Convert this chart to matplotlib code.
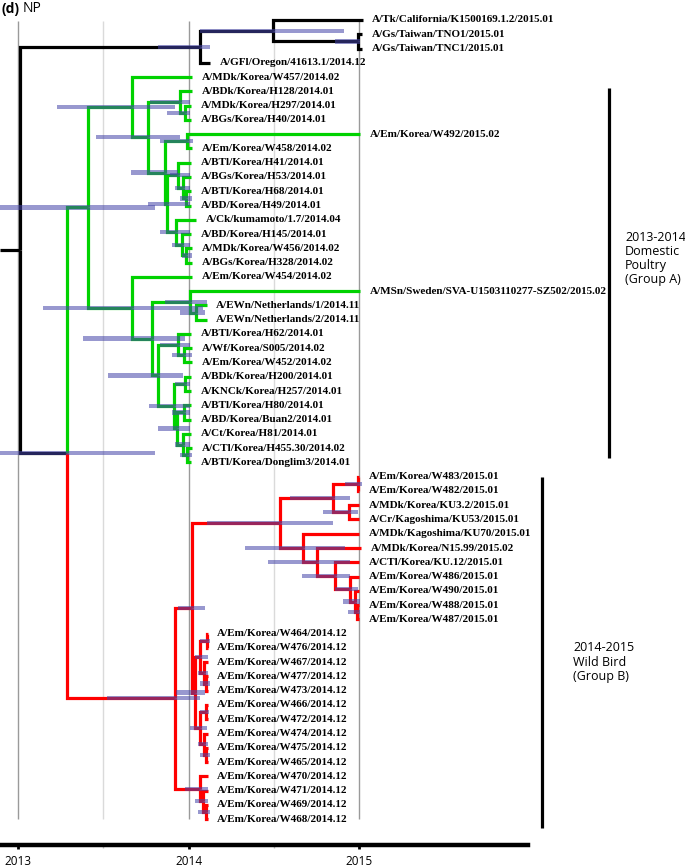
"""
Time-scaled NP tree (panel d) redrawn with matplotlib.
"""
import matplotlib
matplotlib.use("Agg")
import matplotlib.pyplot as plt

# ── Data ──────────────────────────────────────────────────────────────────────

tip_names = [
    "A/Tk/California/K1500169.1.2/2015.01",
    "A/Gs/Taiwan/TNO1/2015.01",
    "A/Gs/Taiwan/TNC1/2015.01",
    "A/GFl/Oregon/41613.1/2014.12",
    "A/MDk/Korea/W457/2014.02",
    "A/BDk/Korea/H128/2014.01",
    "A/MDk/Korea/H297/2014.01",
    "A/BGs/Korea/H40/2014.01",
    "A/Em/Korea/W492/2015.02",
    "A/Em/Korea/W458/2014.02",
    "A/BTl/Korea/H41/2014.01",
    "A/BGs/Korea/H53/2014.01",
    "A/BTl/Korea/H68/2014.01",
    "A/BD/Korea/H49/2014.01",
    "A/Ck/kumamoto/1.7/2014.04",
    "A/BD/Korea/H145/2014.01",
    "A/MDk/Korea/W456/2014.02",
    "A/BGs/Korea/H328/2014.02",
    "A/Em/Korea/W454/2014.02",
    "A/MSn/Sweden/SVA-U1503110277-SZ502/2015.02",
    "A/EWn/Netherlands/1/2014.11",
    "A/EWn/Netherlands/2/2014.11",
    "A/BTl/Korea/H62/2014.01",
    "A/Wf/Korea/S005/2014.02",
    "A/Em/Korea/W452/2014.02",
    "A/BDk/Korea/H200/2014.01",
    "A/KNCk/Korea/H257/2014.01",
    "A/BTl/Korea/H80/2014.01",
    "A/BD/Korea/Buan2/2014.01",
    "A/Ct/Korea/H81/2014.01",
    "A/CTl/Korea/H455.30/2014.02",
    "A/BTl/Korea/Donglim3/2014.01",
    "A/Em/Korea/W483/2015.01",
    "A/Em/Korea/W482/2015.01",
    "A/MDk/Korea/KU3.2/2015.01",
    "A/Cr/Kagoshima/KU53/2015.01",
    "A/MDk/Kagoshima/KU70/2015.01",
    "A/MDk/Korea/N15.99/2015.02",
    "A/CTl/Korea/KU.12/2015.01",
    "A/Em/Korea/W486/2015.01",
    "A/Em/Korea/W490/2015.01",
    "A/Em/Korea/W488/2015.01",
    "A/Em/Korea/W487/2015.01",
    "A/Em/Korea/W464/2014.12",
    "A/Em/Korea/W476/2014.12",
    "A/Em/Korea/W467/2014.12",
    "A/Em/Korea/W477/2014.12",
    "A/Em/Korea/W473/2014.12",
    "A/Em/Korea/W466/2014.12",
    "A/Em/Korea/W472/2014.12",
    "A/Em/Korea/W474/2014.12",
    "A/Em/Korea/W475/2014.12",
    "A/Em/Korea/W465/2014.12",
    "A/Em/Korea/W470/2014.12",
    "A/Em/Korea/W471/2014.12",
    "A/Em/Korea/W469/2014.12",
    "A/Em/Korea/W468/2014.12",
]

# tip heights on the time axis (decimal years, as drawn)
tip_dates = [
    2015.023, 2015.018, 2015.018, 2014.126,
    2014.021, 2014.021, 2014.015, 2014.015, 2015.006, 2014.021,
    2014.015, 2014.015, 2014.015, 2014.015, 2014.044, 2014.015,
    2014.021, 2014.021, 2014.021, 2015.006, 2014.108, 2014.108,
    2014.015, 2014.021, 2014.021, 2014.015, 2014.015, 2014.015,
    2014.015, 2014.015, 2014.021, 2014.015,
    2015.000, 2015.000, 2015.000, 2015.000, 2015.000, 2015.012,
    2015.000, 2015.000, 2015.000, 2015.000, 2015.000,
    2014.114, 2014.114, 2014.114, 2014.114, 2014.114, 2014.114,
    2014.114, 2014.114, 2014.114, 2014.114, 2014.114, 2014.114,
    2014.114, 2014.114,
]

# internal nodes: name, date, children (int = tip index), 95% HPD of node date
node_names = [
    "root", "T", "U", "TW", "S",
    "A", "D", "F", "H1", "H2", "K", "E", "L", "L1", "L1a", "L1b", "L2", "L2a", "L2b",
    "G2", "M", "SN", "NN", "N", "P", "P1", "Q", "Q1", "Q2", "Q2a", "Q2b", "Q2c",
    "R", "R1", "W5", "W33", "W36a", "W36b", "W30", "W31", "W33b", "WW", "WW2", "WW3",
    "WB", "Nab", "Na", "Nb", "Nb2", "Ncd", "Nc", "Nd", "Nd2", "RL", "RL2", "RL3",
]
node_dates = [
    2013.012, 2014.067, 2014.496, 2014.994, 2013.287,
    2013.411, 2013.669, 2013.762, 2013.950, 2013.979, 2013.862, 2013.991, 2013.874,
    2013.938, 2013.968, 2013.985, 2013.927, 2013.962, 2013.985,
    2013.669, 2013.786, 2014.009, 2014.044, 2013.821, 2013.938, 2013.974, 2013.915,
    2013.979, 2013.933, 2013.974, 2013.968, 2013.991,
    2013.921, 2014.021, 2014.537, 2014.848, 2014.994, 2014.941, 2014.672, 2014.754,
    2014.859, 2014.947, 2014.977, 2014.988,
    2014.038, 2014.067, 2014.108, 2014.091, 2014.103, 2014.067, 2014.103, 2014.091,
    2014.103, 2014.067, 2014.085, 2014.103,
]
node_children = [
    ["T", "S"], ["U", 3], [0, "TW"], [1, 2], ["A", "R"],
    ["D", "G2"], [4, "F"], ["H1", "K"], [5, "H2"], [6, 7], ["E", "L"], [8, 9],
    ["L1", "L2"], [10, "L1a"], [11, "L1b"], [12, 13], [14, "L2a"], [15, "L2b"], [16, 17],
    [18, "M"], ["SN", "N"], [19, "NN"], [20, 21], ["P", "Q"], [22, "P1"], [23, 24],
    ["Q1", "Q2"], [25, 26], ["Q2a", "Q2b"], [27, 28], [29, "Q2c"], [30, 31],
    ["R1", "RL"], ["W5", "WB"], ["W33", "W30"], ["W36a", "W36b"], [32, 33], [34, 35],
    [36, "W31"], [37, "W33b"], [38, "WW"], [39, "WW2"], [40, "WW3"], [41, 42],
    ["Nab", "Ncd"], ["Na", "Nb"], [43, 44], [45, "Nb2"], [46, 47], ["Nc", "Nd"],
    [48, 49], [50, "Nd2"], [51, 52], [53, "RL2"], [54, "RL3"], [55, 56],
]
hpd_low = [
    None, 2013.821, 2014.067, 2014.859, 2012.894,
    2012.894, 2013.229, 2013.457, 2013.774, 2013.874, 2013.663, 2013.833, 2013.762,
    2013.891, 2013.921, 2013.950, 2013.833, 2013.903, 2013.962,
    2013.147, 2013.381, 2013.862, 2013.950, 2013.528, 2013.833, 2013.903, 2013.768,
    2013.921, 2013.821, 2013.903, 2013.921, 2013.950,
    2013.522, 2013.938, 2014.108, 2014.595, 2014.918, 2014.789, 2014.331, 2014.466,
    2014.666, 2014.859, 2014.906, 2014.935,
    2013.927, 2014.038, 2014.067, 2014.056, 2014.067, 2014.009, 2014.067, 2014.056,
    2014.067, 2013.979, 2014.038, 2014.056,
]
hpd_high = [
    None, 2014.126, 2014.912, 2015.006, 2013.804,
    2013.804, 2013.921, 2013.950, 2014.009, 2014.009, 2013.938, 2014.026, 2014.009,
    2014.009, 2014.009, 2014.021, 2014.009, 2014.009, 2014.021,
    2014.085, 2013.979, 2014.108, 2014.097, 2013.968, 2014.009, 2014.021, 2014.009,
    2014.009, 2014.009, 2014.009, 2014.009, 2014.021,
    2014.067, 2014.097, 2014.848, 2014.947, 2015.018, 2014.994, 2014.918, 2014.947,
    2014.947, 2014.994, 2015.006, 2015.006,
    2014.097, 2014.114, 2014.126, 2014.114, 2014.126, 2014.108, 2014.120, 2014.114,
    2014.126, 2014.114, 2014.114, 2014.126,
]

clade_colours = {"root": "#000000", "A": "#00d200", "R": "#ff0000"}

group_labels = ["2013-2014\nDomestic\nPoultry\n(Group A)", "2014-2015\nWild Bird\n(Group B)"]
group_spans = [(4.8, 30.7), (32.0, 56.6)]   # bracket extent, in tip rows
group_text_rows = [16.7, 45.0]              # row of the label block centre

year_ticks = [2013, 2014, 2015]
half_year_ticks = [2013.5, 2014.5]

# ── Tree layout ───────────────────────────────────────────────────────────────

idx = {n: k for k, n in enumerate(node_names)}


def when(n):
    return tip_dates[n] if isinstance(n, int) else node_dates[idx[n]]


def row(n):
    if isinstance(n, int):
        return n
    kids = node_children[idx[n]]
    return (row(kids[0]) + row(kids[-1])) / 2


colour = {"root": clade_colours["root"]}
for name in node_names:
    for kid in node_children[idx[name]]:
        colour[kid] = clade_colours.get(kid, colour[name])

# ── Figure ────────────────────────────────────────────────────────────────────

fig = plt.figure(figsize=(6.85, 8.67), dpi=100)
ax = fig.add_axes([0, 22 / 867, 1, 845 / 867])
ax.set_xlim(2012.894, 2016.912)
ax.set_ylim(57.81, -1.40)

# grid lines
ax.vlines(year_ticks, 0.1, 56.0, colors="#9a9a9a", lw=1.0, zorder=0)
ax.vlines(half_year_ticks, 0.1, 56.0, colors="#dadada", lw=1.0, zorder=0)

# branches
lw = 2.3
ax.plot([ax.get_xlim()[0], when("root")], [row("root")] * 2,
        color=colour["root"], lw=lw, solid_capstyle="butt", zorder=2)
for name in node_names:
    tp, yp = when(name), row(name)
    for kid in node_children[idx[name]]:
        tk, yk = when(kid), row(kid)
        ax.plot([tp, tp, tk], [yp, yk, yk], color=colour[kid], lw=lw,
                solid_joinstyle="miter", solid_capstyle="butt", zorder=2)

# node-date HPD bars
for name, lo, hi in zip(node_names, hpd_low, hpd_high):
    if lo is None:
        continue
    ax.barh(row(name), hi - lo, left=lo, height=0.3, color="#4444a8",
            alpha=0.55, edgecolor="none", zorder=3)

# tip labels
for i, (name, t) in enumerate(zip(tip_names, tip_dates)):
    ax.text(t + 0.055, i, name, ha="left", va="center", fontsize=8,
            family="Liberation Serif", weight="bold", zorder=4)

# group brackets
for (y0, y1), y_txt, x_bar, x_txt, label in zip(group_spans, group_text_rows,
                                                 [2016.466, 2016.073],
                                                 [2016.56, 2016.255], group_labels):
    ax.vlines(x_bar, y0, y1, colors="black", lw=2.3)
    ax.text(x_txt, y_txt, label, ha="left", va="center", fontsize=9,
            family="Open Sans", linespacing=1.12)

# time axis
for side in ["top", "right", "left"]:
    ax.spines[side].set_visible(False)
ax.spines["bottom"].set_bounds(2012.894, 2015.99)
ax.spines["bottom"].set_linewidth(3.2)
ax.set_yticks([])
ax.set_xticks(year_ticks)
ax.set_xticklabels([str(y) for y in year_ticks], fontsize=8.5, family="Open Sans")
ax.set_xticks(half_year_ticks, minor=True)
ax.tick_params(axis="x", which="major", length=3, width=2, pad=4, direction="out")
ax.tick_params(axis="x", which="minor", length=2, width=1, color="#bbbbbb")

fig.text(2 / 685, 1 - 9 / 867, "(d)", fontsize=10, weight="bold",
         family="Open Sans", ha="left", va="center")
fig.text(23 / 685, 1 - 9 / 867, "NP", fontsize=10, family="Open Sans",
         ha="left", va="center")

fig.savefig("out.png", dpi=100)
